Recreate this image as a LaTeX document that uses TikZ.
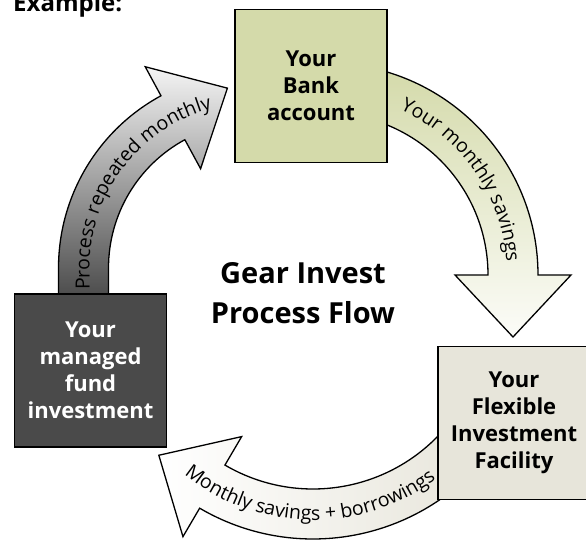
\documentclass[tikz,border=0pt]{standalone}
\usepackage{fontspec}
\setmainfont{Open Sans}
\usetikzlibrary{calc,decorations.text}

\definecolor{BankGreen}{RGB}{212,218,170}
\definecolor{FacilityGrey}{RGB}{231,229,218}
\definecolor{FundGrey}{RGB}{74,74,74}

% curved block arrow: centre, radius, start angle, end angle, stem, style
\newcommand{\cyclearrow}[6]{%
  \path[#6] ($#1+({#3}:{#2+25})+({#3+90}:#5)$)
    -- ($#1+({#3}:{#2+25})$) arc[start angle=#3, end angle=#4, radius=#2+25]
    -- ($#1+({#4}:{#2+58})$) -- ($#1+({#4}:#2)+({#4-90}:62)$)
    -- ($#1+({#4}:{#2-58})$) -- ($#1+({#4}:{#2-25})$)
    arc[start angle=#4, end angle=#3, radius=#2-25]
    -- ($#1+({#3}:{#2-25})+({#3+90}:#5)$) -- cycle;}
\newcommand{\arcfont}{\fontsize{19.5}{22}\selectfont}

\tikzset{
  flowbox/.style={draw=black, line width=1.6pt, minimum width=152pt,
    minimum height=153pt, inner sep=0pt, align=center,
    font=\bfseries\fontsize{22}{27}\selectfont},
  flowarrow/.style={draw=black, line width=1.3pt, line join=miter}
}

\begin{document}
\begin{tikzpicture}[x=1pt,y=1pt]
  \useasboundingbox (0,0) rectangle (586,541);
  \clip (0,0) rectangle (586,541);

  % ---------- arrows (under the boxes) ----------
  \cyclearrow{(326,266)}{187}{78}{0}{0}{flowarrow,
    top color=BankGreen, bottom color=BankGreen!8}
  \cyclearrow{(254.5,273)}{171}{180}{118.5}{35}{flowarrow,
    bottom color=black!72, top color=black!4}
  \cyclearrow{(313,226)}{199}{-40}{-120.4}{0}{flowarrow,
    left color=white, right color=FacilityGrey}

  % labels along the arrows
  \path[decorate, decoration={text along path, text align=center,
      text={|\arcfont|Your monthly savings}}]
    ($(326,266)+(72:181)$) arc[start angle=72, end angle=-2, radius=181];
  \path[decorate, decoration={text along path, text align=left,
      text={|\arcfont|Process repeated monthly}}]
    (89.5,251) -- (89.5,273) arc[start angle=180, end angle=95, radius=165];
  \path[decorate, decoration={text along path, text align=center,
      text={|\arcfont|Monthly savings + borrowings}}]
    ($(313,226)+(-137:205)$) arc[start angle=-137, end angle=-45, radius=205];

  % ---------- boxes ----------
  \node[flowbox, fill=BankGreen] (bank) at (311,455) {Your\\Bank\\account};
  \node[flowbox, fill=FundGrey, text=white] (fund) at (90.5,170.5)
    {Your\\managed\\fund\\investment};
  \node[flowbox, fill=FacilityGrey] (facility) at (514,118)
    {Your\\Flexible\\Investment\\Facility};

  % ---------- titles ----------
  \node[align=center, font=\bfseries\fontsize{29}{40}\selectfont] (title)
    at (303,248) {Gear Invest\\Process Flow};
  \node[anchor=base west, inner sep=0pt, font=\bfseries\fontsize{24}{28}\selectfont]
    (example) at (13,529) {Example:};
\end{tikzpicture}
\end{document}
